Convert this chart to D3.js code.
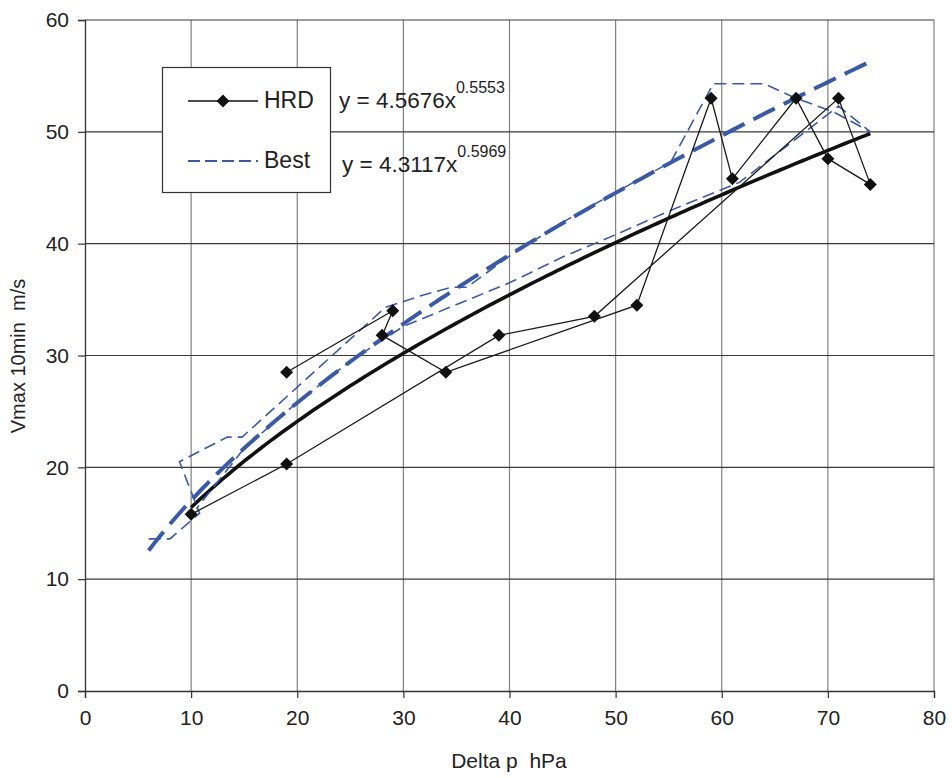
<!DOCTYPE html>
<html><head><meta charset="utf-8">
<script src="https://cdn.jsdelivr.net/npm/d3@7"></script>
<style>body{margin:0;background:#fff}svg{display:block}text{font-family:"Liberation Sans",Arial,sans-serif;fill:#222}</style>
</head><body><svg id="c" width="952" height="778"></svg>
<script>
// ---- data ----
const xTicks = [0,10,20,30,40,50,60,70,80];
const yTicks = [0,10,20,30,40,50,60];
const hrdX = [19,29,28,34,52,59,61,67,70,74,71,48,39,19,10];
const hrdY = [28.5,34,31.8,28.5,34.5,53,45.8,53,47.6,45.3,53,33.5,31.8,20.3,15.8];
const bestX = [6,8,10.8,8.9,13.4,14.8,28.3,31.5,34.5,36,40,45,50,55.2,59.2,64,67,70.5,74,71,61.7,55,50,45,40,30,25,20,15,10.5];
const bestY = [13.6,13.6,15.9,20.5,22.7,22.7,34.3,35.3,36.1,36.1,38.9,41.9,44.6,47.3,54.3,54.3,53,51.8,50,52.3,45.5,42.9,40.8,38.8,36.5,32.6,29.5,25.8,21.7,16.3];
const fitNames = ["HRD","Best"];
const fitA = [4.5676,4.3117];
const fitB = [0.5553,0.5969];
const fitXmin = [10,6];
const fitXmax = [74,74];
const eqMain = ["y = 4.5676x","y = 4.3117x"];
const eqExp = ["0.5553","0.5969"];

// ---- layout ----
const svg = d3.select("#c");
const L=85, R=934, T=20, B=691;
const x = d3.scaleLinear().domain([0,80]).range([L,R]);
const y = d3.scaleLinear().domain([0,60]).range([B,T]);
const blue = "#3a5aa8";

// grid
svg.append("g").selectAll("line").data(xTicks.filter(d=>d>0)).join("line")
  .attr("x1",d=>x(d)).attr("x2",d=>x(d)).attr("y1",T).attr("y2",B)
  .attr("stroke","#808080").attr("stroke-width",1.2);
svg.append("g").selectAll("line").data(yTicks.filter(d=>d>0)).join("line")
  .attr("x1",L).attr("x2",R).attr("y1",d=>y(d)).attr("y2",d=>y(d))
  .attr("stroke","#3a3a3a").attr("stroke-width",1.2);

// axes
const xa = svg.append("g").attr("transform",`translate(0,${B})`)
  .call(d3.axisBottom(x).tickValues(xTicks).tickSize(7).tickPadding(12).tickFormat(d3.format("d")));
const ya = svg.append("g").attr("transform",`translate(${L},0)`)
  .call(d3.axisLeft(y).tickValues(yTicks).tickSize(7).tickPadding(9).tickFormat(d3.format("d")));
[xa,ya].forEach(a=>{
  a.select(".domain").attr("stroke","#333").attr("stroke-width",1.3);
  a.selectAll(".tick line").attr("stroke","#333").attr("stroke-width",1.2);
  a.selectAll(".tick text").attr("font-size",21).attr("font-family","Liberation Sans, Arial, sans-serif").attr("fill","#222");
});

// fit curves (trendlines from the displayed power-law equations)
const fitLine = d3.line().x(d=>x(d[0])).y(d=>y(d[1]));
function fitPts(i){ return d3.range(fitXmin[i], fitXmax[i]+0.001, 0.5).map(v=>[v, fitA[i]*Math.pow(v,fitB[i])]); }
svg.append("path").attr("d",fitLine(fitPts(0))).attr("fill","none").attr("stroke","#111").attr("stroke-width",3.6);

// Best series
const bestLine = d3.line().x((d,i)=>x(bestX[i])).y((d,i)=>y(bestY[i]));
svg.append("path").attr("d",bestLine(bestX)).attr("fill","none").attr("stroke",blue)
  .attr("stroke-width",1.6).attr("stroke-dasharray","12,6");

svg.append("path").attr("d",fitLine(fitPts(1))).attr("fill","none").attr("stroke",blue)
  .attr("stroke-width",4).attr("stroke-dasharray","24,10");

// HRD series
const hrdLine = d3.line().x((d,i)=>x(hrdX[i])).y((d,i)=>y(hrdY[i]));
svg.append("path").attr("d",hrdLine(hrdX)).attr("fill","none").attr("stroke","#1a1a1a").attr("stroke-width",1.3);
const diamond = "M0,-6.5L6.5,0L0,6.5L-6.5,0Z";
svg.append("g").selectAll("path").data(hrdX).join("path")
  .attr("d",diamond).attr("transform",(d,i)=>`translate(${x(hrdX[i])},${y(hrdY[i])})`).attr("fill","#111");

// legend
const lg = svg.append("g");
lg.append("rect").attr("x",162.5).attr("y",67.5).attr("width",168).attr("height",125)
  .attr("fill","#fff").attr("stroke","#333").attr("stroke-width",1.2);
lg.append("line").attr("x1",188).attr("x2",258).attr("y1",101).attr("y2",101).attr("stroke","#111").attr("stroke-width",1.5);
lg.append("path").attr("d",diamond).attr("transform","translate(223,101)").attr("fill","#111");
lg.append("line").attr("x1",188).attr("x2",258).attr("y1",161).attr("y2",161).attr("stroke",blue).attr("stroke-width",2).attr("stroke-dasharray","12,5");
lg.append("text").attr("x",264).attr("y",108).attr("font-size",23).text(fitNames[0]);
lg.append("text").attr("x",264).attr("y",168).attr("font-size",23).text(fitNames[1]);

// equations
[0,1].forEach(i=>{
  const t = svg.append("text").attr("x", i===0?339:342).attr("y", i===0?108:172).attr("font-size",22.5);
  t.append("tspan").text(eqMain[i]);
  t.append("tspan").attr("dy",-15).attr("font-size",16).text(eqExp[i]);
});

// axis titles
svg.append("text").attr("x",509).attr("y",768).attr("text-anchor","middle").attr("font-size",21)
  .attr("xml:space","preserve").style("white-space","pre").text("Delta p  hPa");
svg.append("text").attr("transform","translate(25,356) rotate(-90)").attr("text-anchor","middle").attr("font-size",20)
  .style("white-space","pre").text("Vmax 10min  m/s");
</script></body></html>
